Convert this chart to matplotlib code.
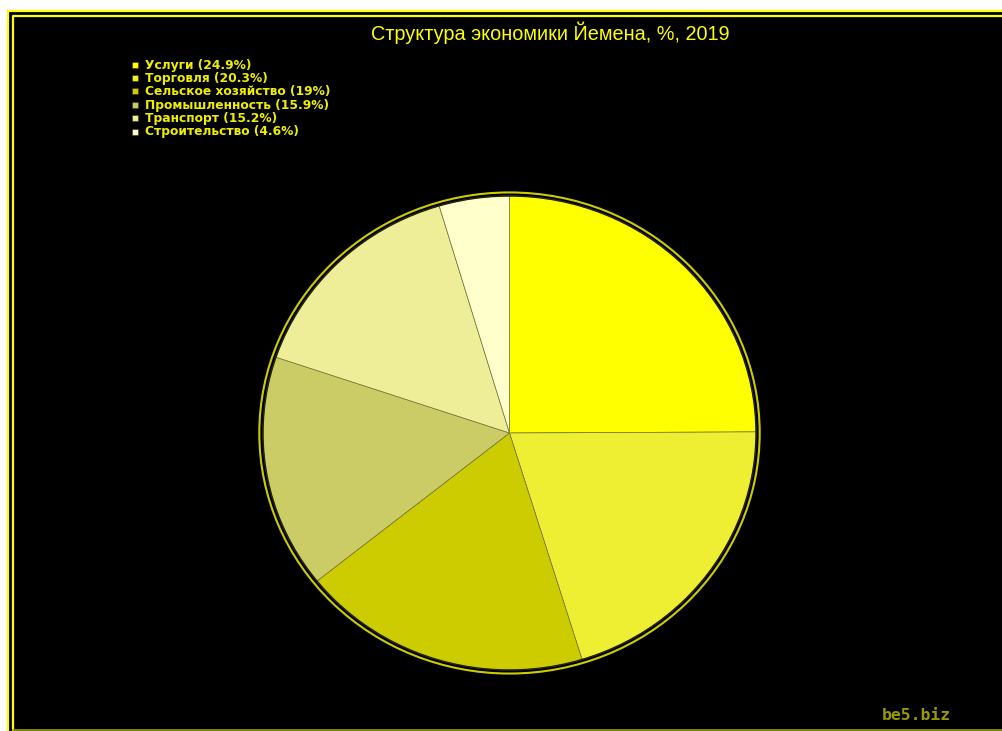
import matplotlib
matplotlib.use("Agg")
import matplotlib.pyplot as plt
from matplotlib.patches import Rectangle, Ellipse

W, H = 1002, 731

labels = ["Услуги", "Торговля", "Сельское хозяйство", "Промышленность",
          "Транспорт", "Строительство"]
values = [24.9, 20.3, 19, 15.9, 15.2, 4.6]
value_text = ["24.9", "20.3", "19", "15.9", "15.2", "4.6"]
colors = ["#ffff00", "#eeee33", "#cccc00", "#cccc66", "#eeee99", "#ffffcc"]
title = "Структура экономики Йемена, %, 2019"

fig = plt.figure(figsize=(W / 100, H / 100), dpi=100)
fig.patch.set_facecolor("white")

# background axes in pixel coordinates (y downwards)
bg = fig.add_axes([0, 0, 1, 1], zorder=0)
bg.set_xlim(0, W)
bg.set_ylim(H, 0)
bg.axis("off")
bg.add_patch(Rectangle((7, 10), W, H, facecolor="black", edgecolor="none"))
bg.plot([8, 8, W], [H, 10.5, 10.5], color="#ffff00", lw=1.6)
bg.plot([13, 13, W], [H, 16, 16], color="#ffff00", lw=1.6)
bg.plot([13, W], [729.5, 729.5], color="#999900", lw=1.2)

bg.text(550, 33, title, color="#ffff00", fontsize=14.3,
        family="Liberation Sans", ha="center", va="center")

for i, (lab, vt, c) in enumerate(zip(labels, value_text, colors)):
    y = 65 + i * 13.4
    bg.add_patch(Rectangle((132.5, y - 3.5), 6, 6, facecolor=c,
                           edgecolor="#333300", lw=0.4))
    bg.text(145, y, f"{lab} ({vt}%)", color="#eeee00", fontsize=8.8,
            family="DejaVu Sans", fontweight="bold", ha="left", va="center")

bg.text(882, 715, "be5.biz", color="#999900", fontsize=11.8,
        family="DejaVu Sans Mono", fontweight="bold", ha="left", va="center")

# pie axes: centre (509.5, 433) px, radii 246.5 x 237 px (slightly squashed)
cx, cy, rx, ry = 509.5, 433, 246.5, 237
lim = 1.06
ax = fig.add_axes([(cx - rx * lim) / W, 1 - (cy + ry * lim) / H,
                   2 * rx * lim / W, 2 * ry * lim / H], zorder=1)
ax.set_facecolor("none")
ax.pie(values, colors=colors, startangle=90, counterclock=False, radius=1,
       wedgeprops=dict(edgecolor="#77773a", linewidth=0.5))
ax.add_patch(Ellipse((0, 0), 2.0, 2.0, fill=False, edgecolor="#222200", lw=1.0))
ax.add_patch(Ellipse((0, 0), 2.03, 2.03, fill=False, edgecolor="#cccc00", lw=1.5))
ax.set_aspect("auto")
ax.set_xlim(-lim, lim)
ax.set_ylim(-lim, lim)
ax.axis("off")

fig.savefig("out.png", dpi=100, facecolor=fig.get_facecolor())
